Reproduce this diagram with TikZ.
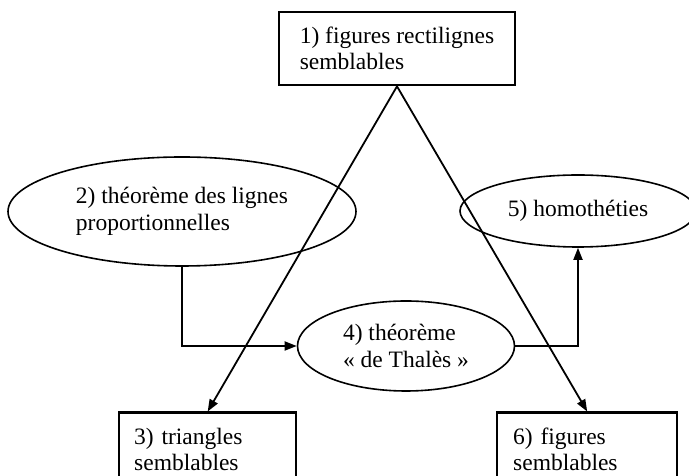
\documentclass[tikz,border=0pt]{standalone}
\usepackage{fontspec}
\setmainfont{Liberation Serif}
\usetikzlibrary{shapes.geometric,arrows.meta}
\begin{document}
\begin{tikzpicture}[x=1pt,y=1pt,>={Triangle[length=12pt,width=9pt]},
    every node/.style={font=\fontsize{23.5}{26.5}\selectfont,align=left},
    boite/.style={draw,line width=2.4pt,inner xsep=15pt,inner ysep=15pt},
    bulle/.style={draw,ellipse,line width=1.6pt,inner sep=0pt},
    fleche/.style={->,line width=1.8pt}]
  \clip (0,0) rectangle (689,476);
  \node[boite,minimum width=236pt,minimum height=71pt] (rect) at (397,427.5) {1) figures rectilignes\\semblables};
  \node[bulle,minimum width=348pt,minimum height=109pt] (lignes) at (182,264.5) {2) théorème des lignes\\proportionnelles};
  \node[bulle,minimum width=236pt,minimum height=72pt] (homo) at (578,265) {5) homothéties};
  \node[bulle,minimum width=217pt,minimum height=90pt] (thales) at (406,130) {4) théorème\\« de Thalès »};
  \node[boite,anchor=north west,text width=147pt] (tri) at (118,64.5) {3) triangles\\semblables};
  \node[boite,anchor=north west,text width=148pt,inner xsep=16pt] (fig) at (496,64.5) {6) figures\\semblables};
  \draw[fleche] (lignes.south) |- (thales.west);
  \draw[fleche] (thales.east) -| (homo.south);
  \draw[fleche] (rect.south) -- (tri.north);
  \draw[fleche] (rect.south) -- (fig.north);
\end{tikzpicture}
\end{document}
